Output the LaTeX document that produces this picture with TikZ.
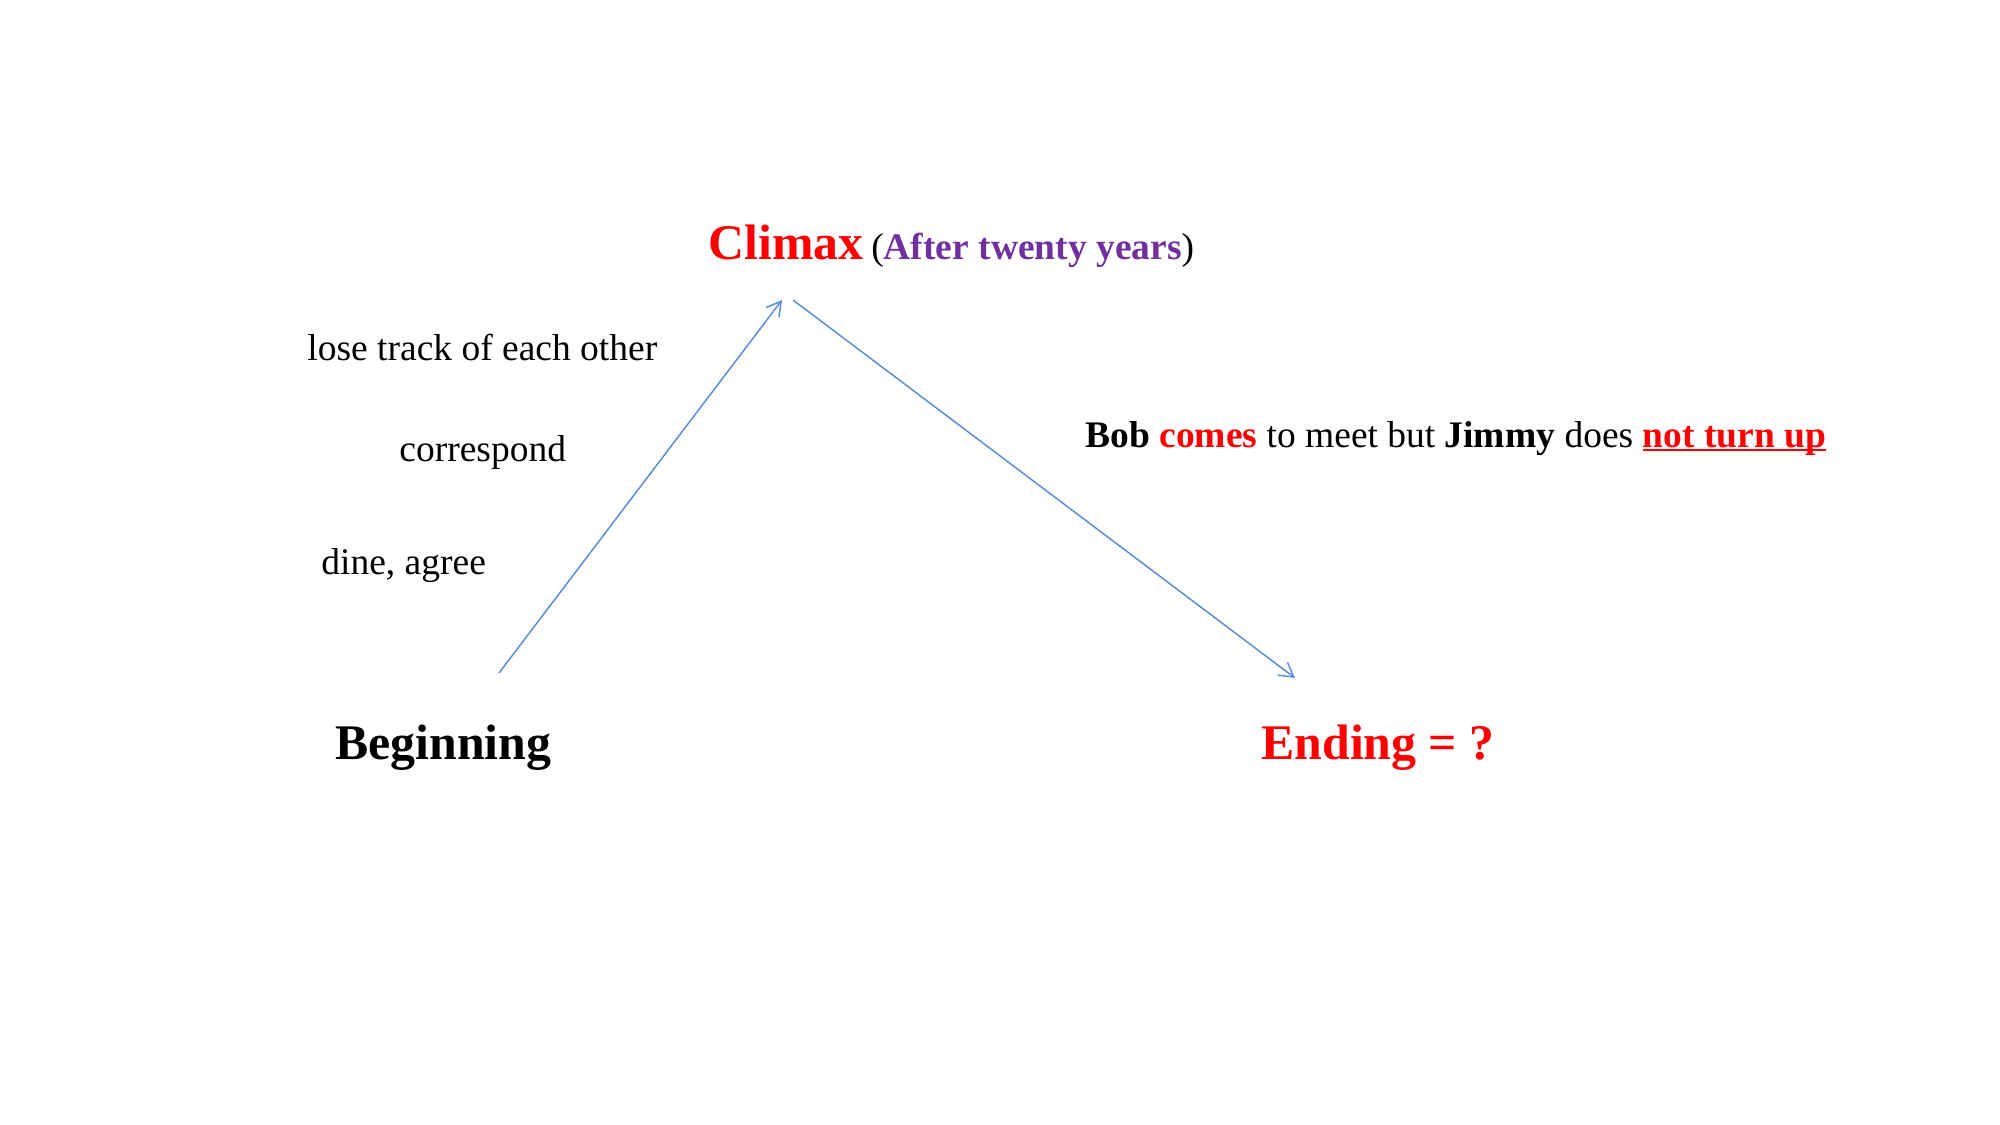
\documentclass[tikz,border=0pt]{standalone}
\usepackage{fontspec}
\setmainfont{Liberation Serif}
\usetikzlibrary{arrows.meta}
\definecolor{arrowblue}{RGB}{91,142,217}
\definecolor{titlepurple}{RGB}{112,48,160}
\definecolor{txtred}{RGB}{255,0,0}
\newcommand{\myul}[1]{\setbox0=\hbox{#1}\rlap{\rule[-2.2pt]{\wd0}{1.1pt}}\box0}
\tikzset{
  lbl/.style={anchor=base west,inner sep=0pt,font=\fontsize{18.75}{22}\selectfont},
  big/.style={anchor=base west,inner sep=0pt,font=\fontsize{24.9}{30}\selectfont\bfseries},
  flow/.style={draw=arrowblue,line width=0.75pt,-{Straight Barb[length=7pt,width=8pt,line width=0.75pt]}}
}
\begin{document}
\begin{tikzpicture}[x=0.5pt,y=-0.5pt]
\useasboundingbox (0,0) rectangle (2000,1124);
\node[big,text=txtred] (climax) at (708,259) {Climax};
\node[lbl] (after) at (871,259) {(\textcolor{titlepurple}{\textbf{After twenty years}})};
\node[lbl] (lose) at (307,360) {lose track of each other};
\node[lbl] (corr) at (399,461) {correspond};
\node[lbl] (dine) at (321,574) {dine, agree};
\node[lbl] (bob) at (1085,447) {\textbf{Bob} \textcolor{txtred}{\textbf{comes}} to meet but \textbf{Jimmy} does \textcolor{txtred}{\myul{\textbf{not turn up}}}};
\node[big] (begin) at (335,759) {Beginning};
\node[big,text=txtred] (ending) at (1261,759) {Ending = ?};
\coordinate (a1s) at (499,673);
\coordinate (a1e) at (782,300);
\coordinate (a2s) at (793,300);
\coordinate (a2e) at (1295,678);
\draw[flow] (a1s) -- (a1e);
\draw[flow] (a2s) -- (a2e);
\end{tikzpicture}
\end{document}
